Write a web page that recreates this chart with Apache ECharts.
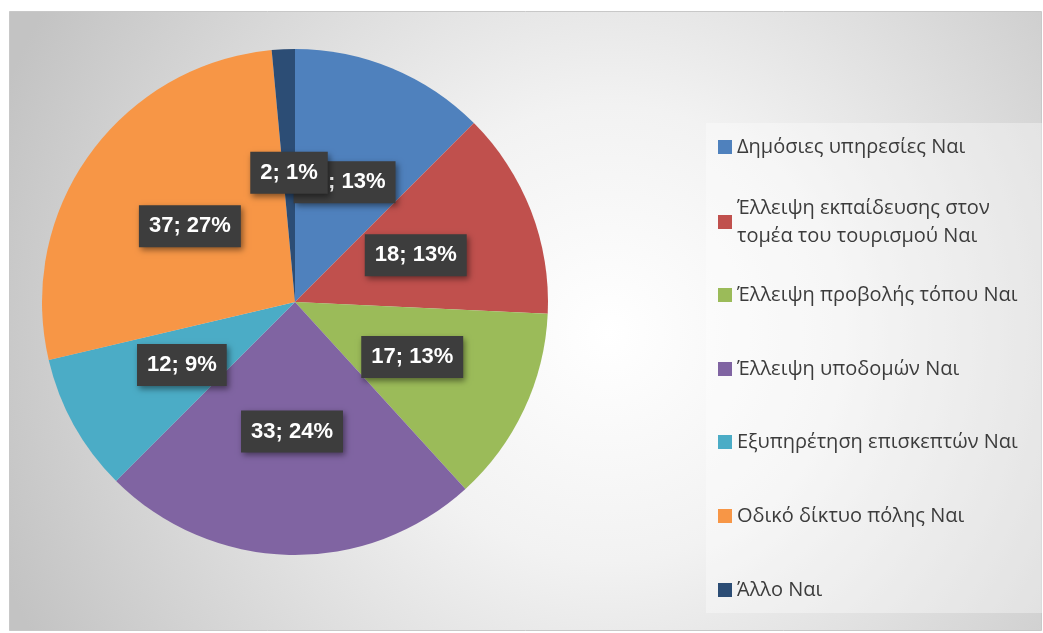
<!DOCTYPE html>
<html><head><meta charset="utf-8">
<script src="https://cdn.jsdelivr.net/npm/echarts@6/dist/echarts.min.js"></script>
<style>html,body{margin:0;padding:0;background:#fff}#c{width:1043px;height:633px}</style>
</head><body><div id="c"></div>
<script>
const categories = [
  'Δημόσιες υπηρεσίες Ναι',
  'Έλλειψη εκπαίδευσης στον τομέα του τουρισμού Ναι',
  'Έλλειψη προβολής τόπου Ναι',
  'Έλλειψη υποδομών Ναι',
  'Εξυπηρέτηση επισκεπτών Ναι',
  'Οδικό δίκτυο πόλης Ναι',
  'Άλλο Ναι'
];
const legendLabels = [
  'Δημόσιες υπηρεσίες Ναι',
  'Έλλειψη εκπαίδευσης στον\nτομέα του τουρισμού Ναι',
  'Έλλειψη προβολής τόπου Ναι',
  'Έλλειψη υποδομών Ναι',
  'Εξυπηρέτηση επισκεπτών Ναι',
  'Οδικό δίκτυο πόλης Ναι',
  'Άλλο Ναι'
];
const values = [17, 18, 17, 33, 12, 37, 2];
const colors = ['#4F81BD', '#C0504D', '#9BBB59', '#8064A2', '#4BACC6', '#F79646', '#2C4D75'];

const legendCenters = [147, 222, 295, 369, 442, 516, 590];
const legendFont = { fontFamily: 'Open Sans', fontSize: 20, color: '#3c3c3c', lineHeight: 28 };

const legends = categories.map((name, i) => {
  const twoLine = legendLabels[i].indexOf('\n') >= 0;
  return {
    data: [name],
    orient: 'vertical',
    left: 718,
    top: twoLine ? legendCenters[i] - 42 : legendCenters[i] - 14,
    padding: 0,
    itemWidth: 14,
    itemHeight: 14,
    itemGap: 0,
    icon: 'rect',
    selectedMode: false,
    formatter: () => legendLabels[i],
    textStyle: Object.assign({}, legendFont, twoLine ? { padding: [28, 0, 0, 0] } : { padding: 0 })
  };
});

const chart = echarts.init(document.getElementById('c'));
chart.setOption({
  animation: false,
  color: colors,
  graphic: {
    elements: [
      {
        type: 'rect', z: -100, silent: true,
        shape: { x: 9.5, y: 11.5, width: 1032, height: 619 },
        style: {
          fill: {
            type: 'radial', x: 0.58, y: 0.52, r: 1.05,
            colorStops: [
              { offset: 0, color: '#ffffff' },
              { offset: 0.35, color: '#f2f2f2' },
              { offset: 1, color: '#c3c3c3' }
            ]
          },
          stroke: '#c8c8c8', lineWidth: 1
        }
      },
      {
        type: 'rect', z: -99, silent: true,
        shape: { x: 706, y: 123, width: 336, height: 490 },
        style: { fill: 'rgba(255,255,255,0.35)' }
      }
    ]
  },
  legend: legends,
  series: [{
    type: 'pie',
    center: [295, 302],
    radius: 253,
    startAngle: 90,
    clockwise: true,
    percentPrecision: 0,
    minShowLabelAngle: 0,
    avoidLabelOverlap: false,
    labelLayout: { hideOverlap: false },
    itemStyle: { borderWidth: 0 },
    emphasis: { disabled: true },
    labelLine: { show: false },
    label: {
      show: true,
      position: 'inside',
      formatter: '{c}; {d}%',
      color: '#ffffff',
      fontFamily: 'Liberation Sans',
      fontWeight: 'bold',
      fontSize: 22,
      lineHeight: 27,
      backgroundColor: '#3d3d3d',
      padding: [8, 10, 7, 10],
      shadowColor: 'rgba(0,0,0,0.45)',
      shadowBlur: 6,
      shadowOffsetX: 2,
      shadowOffsetY: 3
    },
    data: categories.map((n, i) => ({ name: n, value: values[i] }))
  }]
});
</script></body></html>
